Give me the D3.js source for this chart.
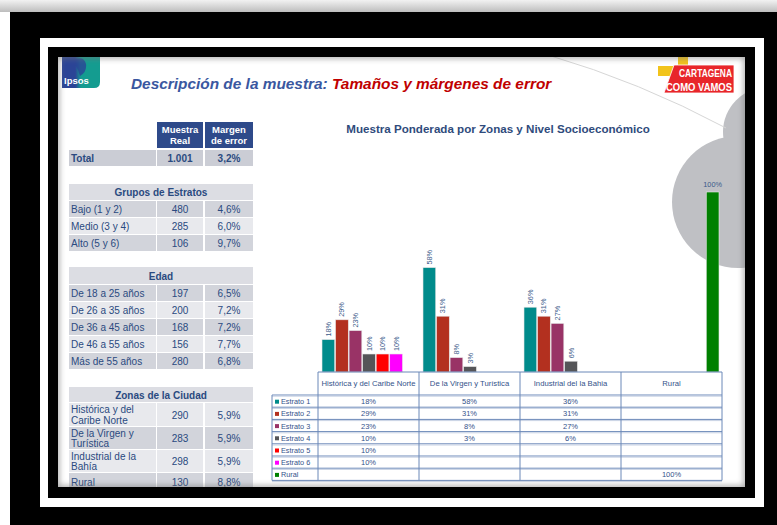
<!DOCTYPE html>
<html>
<head>
<meta charset="utf-8">
<script src="https://cdn.jsdelivr.net/npm/d3@7"></script>
<style>
  body { margin: 0; background: #fff; }
  svg { display: block; }
  text { font-family: "Liberation Sans", Arial, sans-serif; }
</style>
</head>
<body>
<div id="chart"></div>
<script>
// --- datos del gráfico ---
const zonas = ["Histórica y del Caribe Norte", "De la Virgen y Turística", "Industrial del la Bahia", "Rural"];
const series = ["Estrato 1", "Estrato 2", "Estrato 3", "Estrato 4", "Estrato 5", "Estrato 6", "Rural"];
const estrato1 = [18, 58, 36, null];
const estrato2 = [29, 31, 31, null];
const estrato3 = [23, 8, 27, null];
const estrato4 = [10, 3, 6, null];
const estrato5 = [10, null, null, null];
const estrato6 = [10, null, null, null];
const rural = [null, null, null, 100];
const seriesValues = [estrato1, estrato2, estrato3, estrato4, estrato5, estrato6, rural];
const seriesColors = ["#008b8b", "#b3301f", "#993366", "#555558", "#ff0000", "#ff00ff", "#008000"];

// --- tablas de la izquierda ---
const headerCols = [["Muestra", "Real"], ["Margen", "de error"]];
const totalRow = ["Total", "1.001", "3,2%"];
const estratoRows = [["Bajo (1 y 2)", "480", "4,6%"], ["Medio (3 y 4)", "285", "6,0%"], ["Alto (5 y 6)", "106", "9,7%"]];
const edadRows = [["De 18 a 25 años", "197", "6,5%"], ["De 26 a 35 años", "200", "7,2%"], ["De 36 a 45 años", "168", "7,2%"],
                  ["De 46 a 55 años", "156", "7,7%"], ["Más de 55 años", "280", "6,8%"]];
const zonaRows = [["Histórica y del|Caribe Norte", "290", "5,9%"], ["De la Virgen y|Turística", "283", "5,9%"],
                  ["Industrial de la|Bahía", "298", "5,9%"], ["Rural", "130", "8,8%"]];

const W = 777, H = 525;
const navy = "#2a4a80";

const svg = d3.select("#chart").append("svg").attr("width", W).attr("height", H);
const defs = svg.append("defs");

// marco de la foto
const topGrad = defs.append("linearGradient").attr("id", "topGrad").attr("x1", 0).attr("y1", 0).attr("x2", 0).attr("y2", 1);
topGrad.append("stop").attr("offset", 0).attr("stop-color", "#f2f2f2");
topGrad.append("stop").attr("offset", 1).attr("stop-color", "#bdbdbd");
svg.append("rect").attr("width", W).attr("height", H).attr("fill", "#fff");
svg.append("rect").attr("x", 0).attr("y", 0).attr("width", W).attr("height", 12).attr("fill", "url(#topGrad)");
svg.append("rect").attr("x", 10).attr("y", 12).attr("width", W - 10).attr("height", H - 12).attr("fill", "#000");
svg.append("rect").attr("x", 40).attr("y", 38).attr("width", 724).attr("height", 469).attr("fill", "#fff");
svg.append("rect").attr("x", 48).attr("y", 47).attr("width", 707).attr("height", 451).attr("fill", "#000");

// diapositiva
const slide = { x: 58, y: 57, w: 687, h: 430 };
defs.append("clipPath").attr("id", "slideClip").append("rect")
  .attr("x", slide.x).attr("y", slide.y).attr("width", slide.w).attr("height", slide.h);
const blur = defs.append("filter").attr("id", "blur").attr("x", -0.1).attr("y", -0.1).attr("width", 1.2).attr("height", 1.2);
blur.append("feGaussianBlur").attr("stdDeviation", 3);

svg.append("rect").attr("x", slide.x).attr("y", slide.y).attr("width", slide.w).attr("height", slide.h).attr("fill", "#fff");
const g = svg.append("g").attr("clip-path", "url(#slideClip)");

// decoraciones grises
g.append("circle").attr("cx", 768).attr("cy", 132).attr("r", 45).attr("fill", "#bfc0c4");
g.append("circle").attr("cx", 738).attr("cy", 202).attr("r", 66).attr("fill", "#bfc0c4");
g.append("path").attr("d", "M548,55 Q640,82 726,128").attr("fill", "none").attr("stroke", "#d6d6d6").attr("stroke-width", 1);

// logo Ipsos
const ipsGrad = defs.append("linearGradient").attr("id", "ipsGrad").attr("x1", 0).attr("y1", 0).attr("x2", 1).attr("y2", 0);
ipsGrad.append("stop").attr("offset", 0.35).attr("stop-color", "#2b4496");
ipsGrad.append("stop").attr("offset", 0.5).attr("stop-color", "#149c90");
g.append("path").attr("d", "M62,57 H100 V82 Q100,88 94,88 H62 Z").attr("fill", "url(#ipsGrad)");
g.append("path").attr("d", "M76,59 Q84,56 86,64 Q87,72 80,76 L78,70 Q74,64 76,59 Z").attr("fill", "#2b4496").attr("opacity", 0.8);
g.append("text").attr("x", 64).attr("y", 84).attr("fill", "#fff").attr("font-size", 9.5).attr("font-weight", "bold").text("Ipsos");

// logo Cartagena Cómo Vamos
g.append("rect").attr("x", 678).attr("y", 54).attr("width", 10).attr("height", 32).attr("fill", "#f2c31b");
g.append("rect").attr("x", 658).attr("y", 66).attr("width", 32).attr("height", 10).attr("fill", "#f2c31b");
g.append("path").attr("d", "M674,65 H734 V93 H664 Z").attr("fill", "#e8262a").attr("stroke", "#fff").attr("stroke-width", 0.8);
g.append("text").attr("x", 679).attr("y", 77).attr("fill", "#fff").attr("font-size", 11).attr("font-weight", "bold")
  .attr("textLength", 53).attr("lengthAdjust", "spacingAndGlyphs").text("CARTAGENA");
g.append("text").attr("x", 666).attr("y", 90.5).attr("fill", "#fff").attr("font-size", 11).attr("font-weight", "bold")
  .attr("textLength", 66).attr("lengthAdjust", "spacingAndGlyphs").text("COMO VAMOS");

// título
const title = g.append("text").attr("x", 131).attr("y", 89).attr("font-size", 15.4)
  .attr("font-weight", "bold").attr("font-style", "italic");
title.append("tspan").attr("fill", "#3a57a0").text("Descripción de la muestra: ");
title.append("tspan").attr("fill", "#c00000").text("Tamaños y márgenes de error");

// --- tablas izquierda ---
const colX = [69, 157, 205];
const colW = [87, 46, 48];
const tbl = g.append("g");
const dark = "#d2d4db", light = "#e8e9ed";

function cellText(x, w, y, txt, opts) {
  const lines = txt.split("|");
  const t = tbl.append("text").attr("fill", opts.color || navy).attr("font-size", opts.size || 10)
    .attr("font-weight", opts.bold ? "bold" : null)
    .attr("text-anchor", opts.anchor || "middle");
  const tx = opts.anchor === "start" ? x + 2 : x + w / 2;
  const lh = 10.5;
  lines.forEach((l, i) => {
    t.append("tspan").attr("x", tx).attr("y", y + (i - (lines.length - 1) / 2) * lh + 3.6).text(l);
  });
}

// cabecera
headerCols.forEach((c, i) => {
  tbl.append("rect").attr("x", colX[i + 1]).attr("y", 122).attr("width", colW[i + 1]).attr("height", 26).attr("fill", "#2e4a8a");
  cellText(colX[i + 1], colW[i + 1], 135, c.join("|"), { color: "#fff", bold: true, size: 9.5 });
});
// total
totalRow.forEach((c, i) => {
  tbl.append("rect").attr("x", colX[i]).attr("y", 150).attr("width", colW[i]).attr("height", 16).attr("fill", "#cbcdd5");
  cellText(colX[i], colW[i], 158, c, { bold: true, anchor: i === 0 ? "start" : "middle" });
});

function section(name, rows, top, headerH, rowHs, firstDark) {
  tbl.append("rect").attr("x", colX[0]).attr("y", top).attr("width", colX[2] + colW[2] - colX[0]).attr("height", headerH - 1)
    .attr("fill", "#dcdde3");
  cellText(colX[0], colX[2] + colW[2] - colX[0], top + headerH / 2, name, { bold: true });
  let y = top + headerH;
  rows.forEach((r, ri) => {
    const h = rowHs[ri];
    const fill = ((ri % 2 === 0) === firstDark) ? dark : light;
    r.forEach((c, i) => {
      tbl.append("rect").attr("x", colX[i]).attr("y", y).attr("width", colW[i]).attr("height", h - 1).attr("fill", fill);
      cellText(colX[i], colW[i], y + h / 2, c, { anchor: i === 0 ? "start" : "middle" });
    });
    y += h;
  });
}
section("Grupos de Estratos", estratoRows, 184, 17, [17, 17, 17], true);
section("Edad", edadRows, 267, 18, [17, 17, 17, 17, 17], true);
section("Zonas de la Ciudad", zonaRows, 387, 16, [24, 23, 23, 18], false);

// --- gráfico de barras ---
g.append("text").attr("x", 498).attr("y", 133).attr("text-anchor", "middle").attr("font-size", 11.6)
  .attr("font-weight", "bold").attr("fill", "#2f4b7c").text("Muestra Ponderada por Zonas y Nivel Socioeconómico");

const base = 372;
const y = d3.scaleLinear().domain([0, 100]).range([base, 192]);
const x0 = d3.scaleBand().domain(zonas).range([318, 722]);
const x1 = d3.scaleBand().domain(series).range([4, 98]).paddingInner(0.06);

const chart = g.append("g");
series.forEach((s, si) => {
  seriesValues[si].forEach((v, zi) => {
    if (v == null) return;
    const bx = x0(zonas[zi]) + x1(s);
    chart.append("rect").attr("x", bx).attr("y", y(v)).attr("width", x1.bandwidth()).attr("height", base - y(v))
      .attr("fill", seriesColors[si]).attr("stroke", "#e6e6e6").attr("stroke-width", 0.6);
    const cx = bx + x1.bandwidth() / 2;
    if (s === "Rural") {
      chart.append("text").attr("x", cx).attr("y", y(v) - 5).attr("text-anchor", "middle")
        .attr("font-size", 7.3).attr("fill", "#3b5a8a").text(v + "%");
    } else {
      chart.append("text").attr("transform", `translate(${cx + 2.5},${y(v) - 3}) rotate(-90)`)
        .attr("font-size", 7.3).attr("fill", "#3b5a8a").text(v + "%");
    }
  });
});

// tabla de datos
const rowTop = 395, rowH = 12.2, labelX = 272;
const tableBottom = rowTop + rowH * series.length;
const lineC = "#6b88b8";
const grid = g.append("g");
// líneas horizontales
grid.append("line").attr("x1", 318).attr("x2", 722).attr("y1", base).attr("y2", base).attr("stroke", lineC).attr("stroke-width", 1);
d3.range(series.length + 1).forEach(i => {
  const yy = rowTop + i * rowH;
  grid.append("line").attr("x1", labelX).attr("x2", 722).attr("y1", yy).attr("y2", yy).attr("stroke", lineC).attr("stroke-width", 1);
  grid.append("line").attr("x1", labelX).attr("x2", 722).attr("y1", yy + 1.2).attr("y2", yy + 1.2).attr("stroke", "#c8d2e4").attr("stroke-width", 1);
});
// líneas verticales
zonas.forEach(z => {
  grid.append("line").attr("x1", x0(z)).attr("x2", x0(z)).attr("y1", base).attr("y2", tableBottom).attr("stroke", lineC);
});
grid.append("line").attr("x1", 722).attr("x2", 722).attr("y1", base).attr("y2", tableBottom).attr("stroke", lineC);
grid.append("line").attr("x1", labelX).attr("x2", labelX).attr("y1", rowTop).attr("y2", tableBottom).attr("stroke", lineC);

// cabeceras de columnas
zonas.forEach(z => {
  grid.append("text").attr("x", x0(z) + x0.bandwidth() / 2).attr("y", 386).attr("text-anchor", "middle")
    .attr("font-size", 7.7).attr("fill", "#34528a").text(z);
});
// filas
series.forEach((s, si) => {
  const cy = rowTop + si * rowH + rowH / 2 + 0.6;
  grid.append("rect").attr("x", labelX + 3).attr("y", cy - 2).attr("width", 4).attr("height", 4).attr("fill", seriesColors[si]);
  grid.append("text").attr("x", labelX + 9).attr("y", cy + 2.5).attr("font-size", 7.3).attr("fill", "#34528a").text(s);
  seriesValues[si].forEach((v, zi) => {
    if (v == null) return;
    grid.append("text").attr("x", x0(zonas[zi]) + x0.bandwidth() / 2).attr("y", cy + 2.5).attr("text-anchor", "middle")
      .attr("font-size", 7.5).attr("fill", "#34528a").text(v + "%");
  });
});

// sombra interior de la diapositiva
g.append("rect").attr("x", slide.x - 2).attr("y", slide.y - 2).attr("width", slide.w + 4).attr("height", slide.h + 4)
  .attr("fill", "none").attr("stroke", "#777").attr("stroke-width", 6).attr("filter", "url(#blur)").attr("opacity", 0.7);
</script>
</body>
</html>
